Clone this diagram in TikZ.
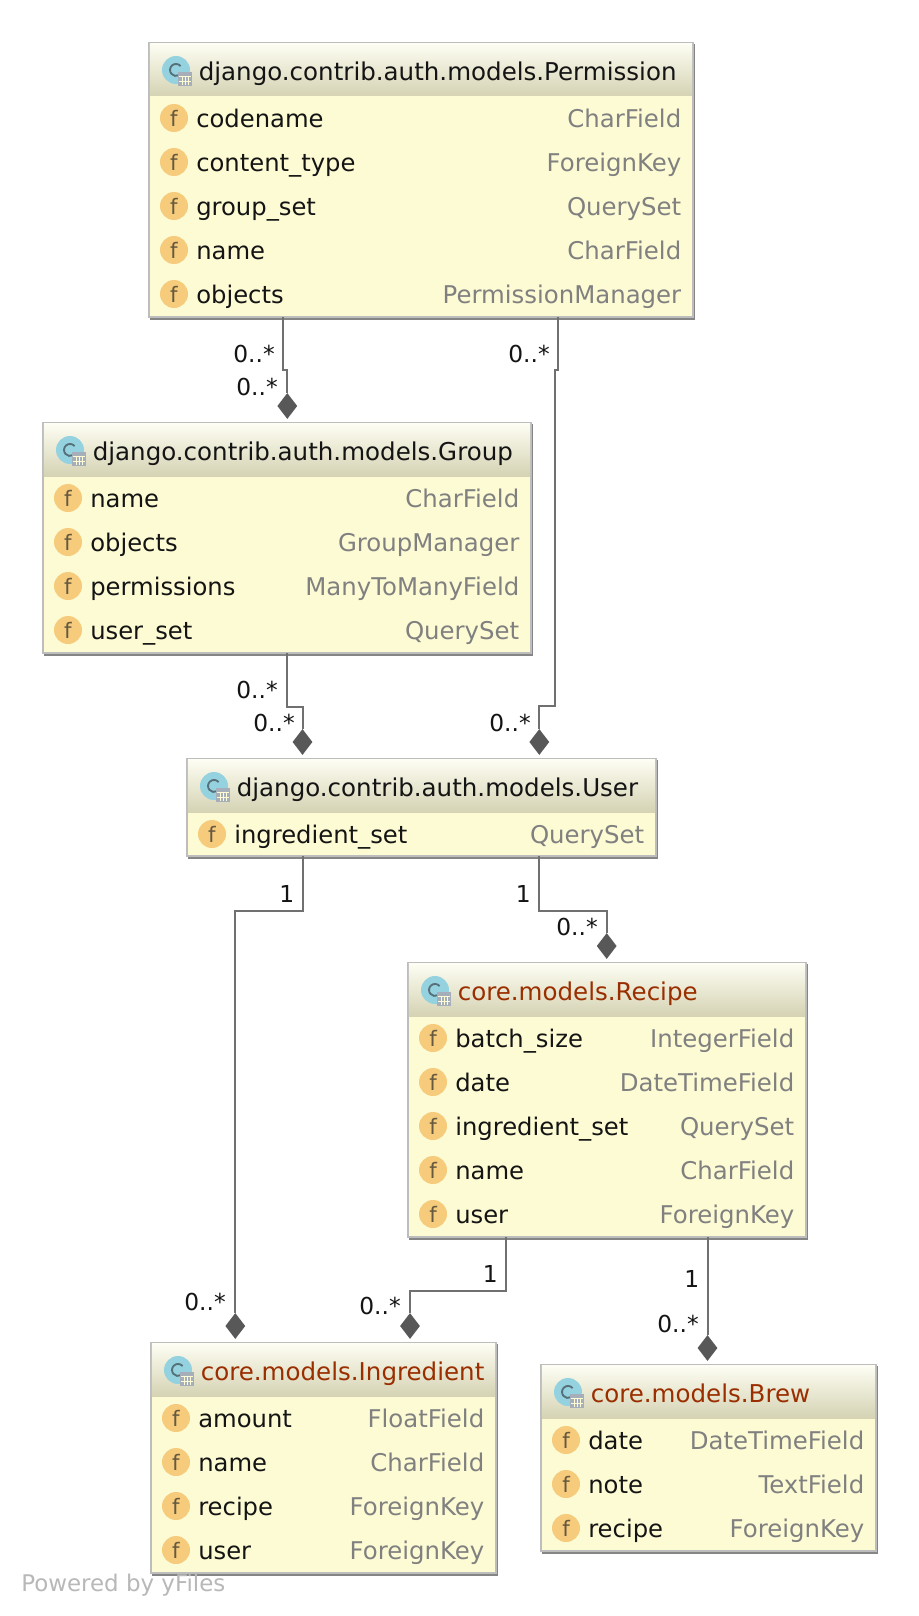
\documentclass[tikz,border=0pt]{standalone}
\usepackage{fontspec}
\setmainfont{DejaVu Sans}
\usetikzlibrary{shapes.geometric}
\definecolor{bodyc}{HTML}{FDFBD4}
\definecolor{headtop}{HTML}{FDFDF3}
\definecolor{headbot}{HTML}{D5D3B3}
\definecolor{edgec}{HTML}{BDBDBD}
\definecolor{shadc}{HTML}{858585}
\definecolor{typec}{HTML}{808080}
\definecolor{namec}{HTML}{141414}
\definecolor{corec}{HTML}{9A2E00}
\definecolor{fillf}{HTML}{F7CB7C}
\definecolor{fglyph}{HTML}{66593F}
\definecolor{iconc}{HTML}{95D2DF}
\definecolor{icond}{HTML}{56707A}
\definecolor{tablec}{HTML}{A6AFB9}
\definecolor{connc}{HTML}{707070}
\definecolor{tipc}{HTML}{585858}
\tikzset{
  x=0.75pt,y=-0.75pt,
  classbody/.style={rectangle,draw=edgec,line width=1.1pt,fill=bodyc,inner sep=0pt,outer sep=0pt,anchor=north west},
  titletext/.style={anchor=base west,inner sep=0pt,font=\fontsize{18.4pt}{22pt}\selectfont},
  fieldname/.style={anchor=base west,inner sep=0pt,text=namec,font=\fontsize{18.2pt}{22pt}\selectfont},
  fieldtype/.style={anchor=base east,inner sep=0pt,text=typec,font=\fontsize{18.3pt}{22pt}\selectfont},
  fieldicon/.style={circle,fill=fillf,inner sep=0pt,minimum size=21pt,text=fglyph,font=\fontsize{16pt}{16pt}\selectfont},
  conn/.style={draw=connc,line width=1.5pt},
  tip/.style={diamond,fill=tipc,inner sep=0pt,minimum width=15pt,minimum height=19.5pt},
  mult/.style={anchor=base east,inner sep=0pt,text=namec,font=\fontsize{17.5pt}{20pt}\selectfont},
  footer/.style={anchor=base west,inner sep=0pt,text=black!28,font=\fontsize{17.2pt}{20pt}\selectfont},
}
% name, left, top, right, bottom, title colour, title
\newcommand{\classbox}[7]{%
  \fill[shadc] (#2+1,#3+1) rectangle (#4+2,#5+2.5);
  \node[classbody,minimum width={(#4-#2)*0.75pt},minimum height={(#5-#3)*0.75pt}] (#1) at (#2,#3) {};
  \shade[top color=headtop,bottom color=headbot] (#2+0.8,#3+0.8) rectangle (#4-0.8,#3+53);
  \fill[iconc] (#2+27,#3+27) circle[radius=14];
  \draw[icond,line width=1.4pt] (#2+31.6,#3+23.1) arc[start angle=-40,end angle=-300,radius=6];
  \fill[tablec] (#2+29,#3+29) rectangle (#2+43,#3+43);
  \draw[bodyc,line width=0.6pt] (#2+30,#3+33) -- (#2+42,#3+33) (#2+30,#3+38) -- (#2+42,#3+38)
     (#2+33,#3+33) -- (#2+33,#3+42) (#2+36,#3+33) -- (#2+36,#3+42) (#2+39,#3+33) -- (#2+39,#3+42);
  \node[titletext,text=#6] (#1title) at (#2+49.5,#3+37.5) {#7};
}
% box, row id, left, right, centre y, field, type
\newcommand{\fieldrow}[7]{%
  \node[fieldicon] (#1#2icon) at (#3+25,#5) {f};
  \node[fieldname] (#1#2name) at (#3+47,#5+9.5) {#6};
  \node[fieldtype] (#1#2type) at (#4-11.5,#5+9.5) {#7};
}
\begin{document}
\begin{tikzpicture}
\useasboundingbox[fill=white] (0,0) rectangle (918,1616);
% diamonds
\node[tip] (dgroup) at (287.3,406) {};
\node[tip] (duserA) at (302.5,742) {};
\node[tip] (duserB) at (539.3,742) {};
\node[tip] (drecipe) at (606.7,946) {};
\node[tip] (dingA) at (235.3,1326) {};
\node[tip] (dingB) at (410,1326) {};
\node[tip] (dbrew) at (707.5,1348) {};
% classes
\classbox{perm}{149}{43}{693}{317}{namec}{django.contrib.auth.models.Permission}
\fieldrow{perm}{a}{149}{693}{118}{codename}{CharField}
\fieldrow{perm}{b}{149}{693}{162}{content\_type}{ForeignKey}
\fieldrow{perm}{c}{149}{693}{206}{group\_set}{QuerySet}
\fieldrow{perm}{d}{149}{693}{250}{name}{CharField}
\fieldrow{perm}{e}{149}{693}{294}{objects}{PermissionManager}
\classbox{grp}{43}{423}{531}{653}{namec}{django.contrib.auth.models.Group}
\fieldrow{grp}{a}{43}{531}{498}{name}{CharField}
\fieldrow{grp}{b}{43}{531}{542}{objects}{GroupManager}
\fieldrow{grp}{c}{43}{531}{586}{permissions}{ManyToManyField}
\fieldrow{grp}{d}{43}{531}{630}{user\_set}{QuerySet}
\classbox{usr}{187}{759}{656}{856}{namec}{django.contrib.auth.models.User}
\fieldrow{usr}{a}{187}{656}{834}{ingredient\_set}{QuerySet}
\classbox{rec}{408}{963}{806}{1237}{corec}{core.models.Recipe}
\fieldrow{rec}{a}{408}{806}{1038}{batch\_size}{IntegerField}
\fieldrow{rec}{b}{408}{806}{1082}{date}{DateTimeField}
\fieldrow{rec}{c}{408}{806}{1126}{ingredient\_set}{QuerySet}
\fieldrow{rec}{d}{408}{806}{1170}{name}{CharField}
\fieldrow{rec}{e}{408}{806}{1214}{user}{ForeignKey}
\classbox{ing}{151}{1343}{496}{1573}{corec}{core.models.Ingredient}
\fieldrow{ing}{a}{151}{496}{1418}{amount}{FloatField}
\fieldrow{ing}{b}{151}{496}{1462}{name}{CharField}
\fieldrow{ing}{c}{151}{496}{1506}{recipe}{ForeignKey}
\fieldrow{ing}{d}{151}{496}{1550}{user}{ForeignKey}
\classbox{brew}{541}{1365}{876}{1551}{corec}{core.models.Brew}
\fieldrow{brew}{a}{541}{876}{1440}{date}{DateTimeField}
\fieldrow{brew}{b}{541}{876}{1484}{note}{TextField}
\fieldrow{brew}{c}{541}{876}{1528}{recipe}{ForeignKey}
% connectors
\draw[conn] (283.3,0 |- perm.south) -- (283.3,370) -- (287.3,370) -- (dgroup.north);
\draw[conn] (558.3,0 |- perm.south) -- (558.3,370) -- (555.3,370) -- (555.3,706) -- (539.3,706) -- (duserB.north);
\draw[conn] (287.3,0 |- grp.south) -- (287.3,707) -- (302.5,707) -- (duserA.north);
\draw[conn] (302.5,0 |- usr.south) -- (302.5,911) -- (235.3,911) -- (dingA.north);
\draw[conn] (539.3,0 |- usr.south) -- (539.3,910.5) -- (606.7,910.5) -- (drecipe.north);
\draw[conn] (505.7,0 |- rec.south) -- (505.7,1290.5) -- (410,1290.5) -- (dingB.north);
\draw[conn] (707.5,0 |- rec.south) -- (dbrew.north);
% multiplicities
\node[mult] (m1) at (275,362) {0..*};
\node[mult] (m2) at (278,395) {0..*};
\node[mult] (m3) at (550,362) {0..*};
\node[mult] (m4) at (278,698) {0..*};
\node[mult] (m5) at (295,731) {0..*};
\node[mult] (m6) at (531,731) {0..*};
\node[mult] (m7) at (294.5,902) {1};
\node[mult] (m8) at (531,902) {1};
\node[mult] (m9) at (598,935) {0..*};
\node[mult] (m10) at (498,1282) {1};
\node[mult] (m11) at (401,1314) {0..*};
\node[mult] (m12) at (226,1310) {0..*};
\node[mult] (m13) at (699.5,1287) {1};
\node[mult] (m14) at (699,1332) {0..*};
\node[footer] (powered) at (21,1591) {Powered by yFiles};
\end{tikzpicture}
\end{document}
